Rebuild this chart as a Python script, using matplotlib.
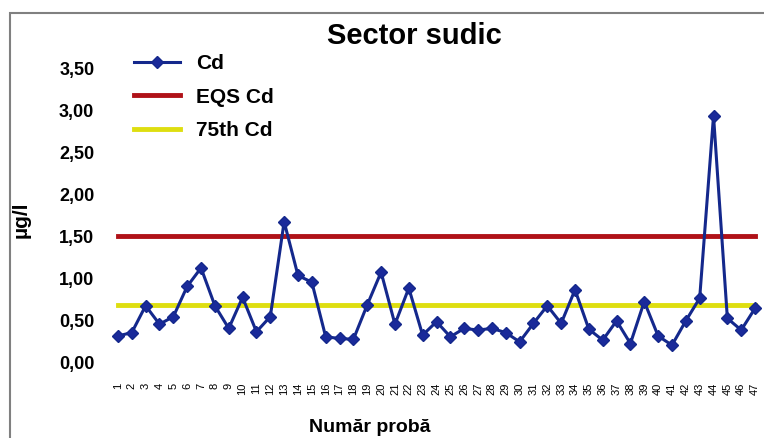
import numpy as np
import matplotlib
matplotlib.use('Agg')
import matplotlib.pyplot as plt
from matplotlib.ticker import FuncFormatter
from matplotlib.patches import Rectangle

plt.rcParams['font.family'] = ['Liberation Sans', 'DejaVu Sans']

# Sample numbers and Cd concentrations (ug/l)
samples = list(range(1, 48))
cd = [0.31, 0.35, 0.67, 0.45, 0.54, 0.90, 1.12, 0.67, 0.40, 0.77,
      0.36, 0.54, 1.67, 1.03, 0.95, 0.30, 0.28, 0.27, 0.68, 1.07,
      0.45, 0.88, 0.32, 0.48, 0.30, 0.40, 0.38, 0.40, 0.35, 0.24,
      0.46, 0.67, 0.46, 0.86, 0.39, 0.26, 0.49, 0.22, 0.72, 0.31,
      0.20, 0.49, 0.76, 2.93, 0.52, 0.38, 0.64]
eqs_cd = 1.50
p75_cd = 0.68
y_ticks = [0.0, 0.5, 1.0, 1.5, 2.0, 2.5, 3.0, 3.5]

W, H = 764, 438
fig = plt.figure(figsize=(W / 100, H / 100), dpi=100)
fig.patch.set_facecolor('white')

# outer chart border (cropped Excel chart)
fig.patches.append(Rectangle((9.5 / W, -0.1), 1.2, 1 - 13 / H + 0.1,
                             transform=fig.transFigure, fill=False,
                             edgecolor='#808080', linewidth=1.5))

ax = fig.add_axes([111 / W, 1 - 362 / H, 651 / W, 294 / H])
ax.set_facecolor('none')

x = np.array(samples)
ax.plot(x, cd, color='#14288c', linewidth=2.2, marker='D', markersize=6.5,
        markerfacecolor='#1a2a9a', markeredgecolor='#14288c', label='Cd',
        zorder=3)
ax.plot([x[0], x[-1]], [eqs_cd, eqs_cd], color='#b01218', linewidth=3.5,
        label='EQS Cd', zorder=2)
ax.plot([x[0], x[-1]], [p75_cd, p75_cd], color='#dede10', linewidth=3.5,
        label='75th Cd', zorder=2)

ax.set_xlim(0.5, len(samples) + 0.5)
ax.set_ylim(0, 3.5)
ax.set_yticks(y_ticks)
ax.yaxis.set_major_formatter(FuncFormatter(lambda v, p: f'{v:.2f}'.replace('.', ',')))
ax.set_xticks(x)
ax.set_xticklabels([str(s) for s in samples], rotation=90, fontsize=8)
for lab in ax.get_yticklabels():
    lab.set_fontweight('bold')
    lab.set_fontsize(13)
ax.tick_params(axis='y', length=0, pad=12)
ax.tick_params(axis='x', length=0, pad=15)
for s in ax.spines.values():
    s.set_visible(False)

fig.text(414 / W, 1 - 36 / H, 'Sector sudic', ha='center', va='center',
         fontsize=21, fontweight='bold')
fig.text(21 / W, 1 - 220 / H, 'µg/l', ha='center', va='center',
         rotation=90, fontsize=15, fontweight='bold')
fig.text(370 / W, 2 / H, 'Număr probă', ha='center', va='bottom',
         fontsize=14, fontweight='bold')

leg = ax.legend(loc='upper left', bbox_to_anchor=(134 / W, 1 - 54 / H),
                bbox_transform=fig.transFigure, frameon=False, borderpad=0,
                borderaxespad=0, handlelength=2.2, handletextpad=0.8,
                labelspacing=0.7, prop={'weight': 'bold', 'size': 15})

fig.savefig('out.png', dpi=100)
